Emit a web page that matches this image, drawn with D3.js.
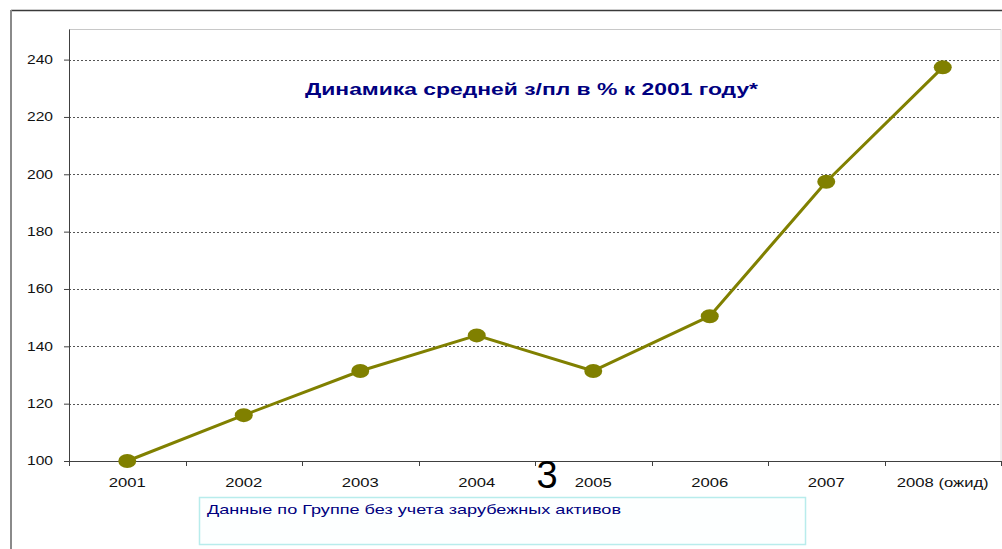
<!DOCTYPE html>
<html><head><meta charset="utf-8">
<script src="https://cdn.jsdelivr.net/npm/d3@7"></script>
<style>
html,body{margin:0;padding:0;background:#fff;}
svg{display:block;font-family:"Liberation Sans",Arial,sans-serif;}
</style></head>
<body>
<svg id="c" width="1002" height="549"></svg>
<script>
const categories = ["2001","2002","2003","2004","2005","2006","2007","2008 (ожид)"];
const values = [100, 116, 131.4, 143.8, 131.4, 150.5, 197.4, 237.3];
const yTicks = [100,120,140,160,180,200,220,240];
const titleText = "Динамика средней з/пл в % к 2001 году*";
const noteText = "Данные по Группе без учета зарубежных активов";
const pageNumber = "3";

const svg = d3.select("#c");
const L = 69, R = 1001, T = 29.5, B = 461;
const x = d3.scaleBand().domain(categories).range([L, R]).paddingInner(0).paddingOuter(0);
const y = d3.scaleLinear().domain([100, 250.5]).range([B, T]);

function stretch(sel, f){
  sel.each(function(){ const w = this.getComputedTextLength(); this.setAttribute("textLength", w*f); this.setAttribute("lengthAdjust","spacingAndGlyphs"); });
}

// outer frame
svg.append("line").attr("x1",11).attr("x2",1002).attr("y1",10.5).attr("y2",10.5).attr("stroke","#3a3a3a").attr("stroke-width",1.5);
svg.append("line").attr("x1",11).attr("x2",11).attr("y1",10).attr("y2",549).attr("stroke","#8a8a8a").attr("stroke-width",2);

// plot area border (light)
svg.append("line").attr("x1",L).attr("x2",R).attr("y1",T).attr("y2",T).attr("stroke","#c8c8c8");
svg.append("line").attr("x1",R).attr("x2",R).attr("y1",T).attr("y2",B).attr("stroke","#e0e0e0");

// gridlines
svg.append("g").selectAll("line").data(yTicks.filter(d=>d>100)).join("line")
  .attr("x1",L).attr("x2",R).attr("y1",d=>Math.round(y(d))+0.5).attr("y2",d=>Math.round(y(d))+0.5)
  .attr("stroke","#555").attr("stroke-dasharray","2,2").attr("stroke-width",1);

// y axis
const yAxis = svg.append("g").attr("transform",`translate(${L},0)`)
  .call(d3.axisLeft(y).tickValues(yTicks).tickSize(5).tickSizeOuter(0).tickPadding(11));
yAxis.select(".domain").attr("stroke","#404040").attr("d",`M0.5,${T}V${B}`);
yAxis.selectAll(".tick line").attr("stroke","#404040");
yAxis.selectAll(".tick text").attr("font-size",12).attr("fill","#111").attr("font-family","Liberation Sans, Arial, sans-serif");
yAxis.selectAll(".tick text").each(function(){
  const w = this.getComputedTextLength();
  this.setAttribute("textLength", w*1.3); this.setAttribute("lengthAdjust","spacingAndGlyphs");
});

// x axis
const xg = svg.append("g");
xg.append("line").attr("x1",L).attr("x2",R).attr("y1",B+0.5).attr("y2",B+0.5).attr("stroke","#404040").attr("stroke-width",1.2);
const bounds = categories.map(c=>x(c)).concat([x(categories[categories.length-1])+x.bandwidth()]);
xg.selectAll("line.tk").data(bounds).join("line").attr("class","tk")
  .attr("x1",d=>Math.round(d)+0.5).attr("x2",d=>Math.round(d)+0.5).attr("y1",B).attr("y2",B+5).attr("stroke","#404040");
xg.selectAll("text").data(categories).join("text")
  .attr("x",d=>x(d)+x.bandwidth()/2).attr("y",B+26).attr("text-anchor","middle")
  .attr("font-size",12.5).attr("fill","#111").text(d=>d)
  .call(stretch, 1.33);

// line
svg.append("path").datum(values)
  .attr("d", d3.line().x((d,i)=>x(categories[i])+x.bandwidth()/2).y(d=>y(d)))
  .attr("fill","none").attr("stroke","#808000").attr("stroke-width",3).attr("stroke-linejoin","round");
svg.append("g").selectAll("ellipse").data(values).join("ellipse")
  .attr("cx",(d,i)=>x(categories[i])+x.bandwidth()/2).attr("cy",d=>y(d))
  .attr("rx",9).attr("ry",7).attr("fill","#808000");

// title
svg.append("text").attr("x",531.5).attr("y",95).attr("text-anchor","middle")
  .attr("font-size",16).attr("font-weight","bold").attr("fill","#000080")
  .attr("textLength",453).attr("lengthAdjust","spacingAndGlyphs").text(titleText);

// note box
svg.append("rect").attr("x",199.5).attr("y",497.5).attr("width",606).attr("height",47)
  .attr("fill","#fdffff").attr("stroke","#b8ecec").attr("stroke-width",1.5);
svg.append("text").attr("x",207).attr("y",514).attr("font-size",13).attr("fill","#000080")
  .attr("textLength",414).attr("lengthAdjust","spacingAndGlyphs").text(noteText);

// page number
svg.append("text").attr("x",547).attr("y",488).attr("text-anchor","middle")
  .attr("font-size",38).attr("fill","#000").text(pageNumber);
</script>
</body></html>
